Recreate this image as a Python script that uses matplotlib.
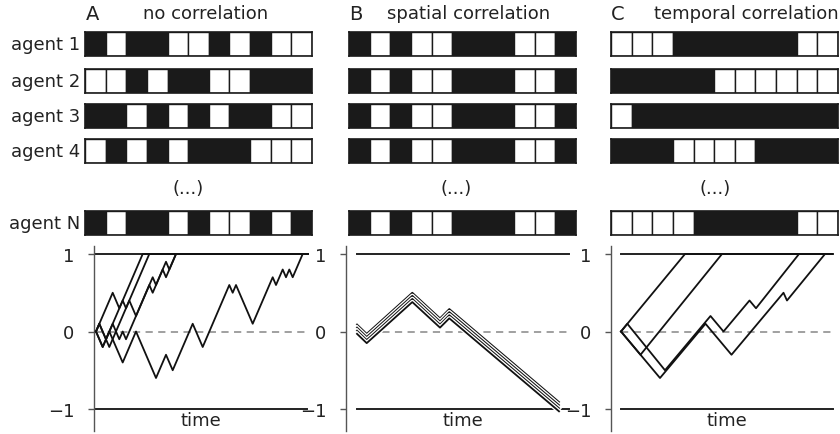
import numpy as np
import matplotlib
matplotlib.use("Agg")
import matplotlib.pyplot as plt
import matplotlib.patheffects as pe

# ---------------------------------------------------------------------------
# Data: agent sequences (1 = white cell, 0 = black cell)
# ---------------------------------------------------------------------------
agent_labels = ["agent 1", "agent 2", "agent 3", "agent 4", "agent N"]

seq_a = [
    [0, 1, 0, 0, 1, 1, 0, 1, 0, 1, 1],
    [1, 1, 0, 1, 0, 0, 1, 1, 0, 0, 0],
    [0, 0, 1, 0, 1, 0, 1, 0, 0, 1, 1],
    [1, 0, 1, 0, 1, 0, 0, 0, 1, 1, 1],
    [0, 1, 0, 0, 1, 0, 1, 1, 0, 1, 0],
]
seq_b = [[0, 1, 0, 1, 1, 0, 0, 0, 1, 1, 0]] * 5
seq_c = [
    [1, 1, 1, 0, 0, 0, 0, 0, 0, 1, 1],
    [0, 0, 0, 0, 0, 1, 1, 1, 1, 1, 1],
    [1, 0, 0, 0, 0, 0, 0, 0, 0, 0, 0],
    [0, 0, 0, 1, 1, 1, 1, 0, 0, 0, 0],
    [1, 1, 1, 1, 0, 0, 0, 0, 0, 1, 1],
]

panel_letters = ["A", "B", "C"]
panel_titles = ["no correlation", "spatial correlation", "temporal correlation"]

# ---------------------------------------------------------------------------
# Data: decision-variable trajectories (time, value)
# ---------------------------------------------------------------------------
traj_a = [
    ([0, 6.7, 13.3, 26.7, 40, 60, 70, 76.7, 96.7, 106.7, 133.3, 136.7, 140,
      156.7, 176.7, 180, 186.7, 190, 193.3, 196.7, 206.7, 212],
     [0, -0.2, 0, -0.4, 0, -0.6, -0.3, -0.5, 0.1, -0.2, 0.6, 0.5, 0.6,
      0.1, 0.7, 0.6, 0.8, 0.7, 0.8, 0.7, 1.0, 1.0]),
    ([0, 6.7, 46.7, 212], [0, -0.2, 1.0, 1.0]),
    ([0, 3.3, 13.3, 53.3, 212], [0, 0.1, -0.2, 1.0, 1.0]),
    ([0, 16.7, 23.3, 26.7, 30, 33.3, 40, 53.3, 56.7, 66.7, 70, 80, 212],
     [0, 0.5, 0.3, 0.4, 0.3, 0.4, 0.2, 0.6, 0.5, 0.8, 0.7, 1.0, 1.0]),
    ([0, 3.3, 10, 16.7, 23.3, 26.7, 30, 56.7, 60, 70, 73.3, 80, 212],
     [0, 0.1, -0.1, 0.1, -0.1, 0.0, -0.1, 0.7, 0.6, 0.9, 0.8, 1.0, 1.0]),
]
traj_b_time = [0, 9.7, 55.3, 83, 92.3, 202]
traj_b_value = [0.09, -0.03, 0.50, 0.17, 0.29, -0.91]
traj_b_offsets = [0.0, -0.04, -0.08, -0.12]
traj_c = [
    ([0, 64, 211], [0, 1.0, 1.0]),
    ([0, 19.5, 101, 211], [0, -0.3, 1.0, 1.0]),
    ([0, 39, 84.5, 110.5, 162.5, 166, 204, 211],
     [0, -0.6, 0.1, -0.3, 0.5, 0.4, 1.0, 1.0]),
    ([0, 6.3, 44, 89.5, 102.5, 128.5, 135, 178, 211],
     [0, 0.1, -0.5, 0.2, 0.0, 0.4, 0.3, 1.0, 1.0]),
]

# ---------------------------------------------------------------------------
# Figure
# ---------------------------------------------------------------------------
W, H = 840, 435
fig = plt.figure(figsize=(8.4, 4.35), dpi=100)
plt.rcParams["font.family"] = ["DejaVu Sans"]

FS = 13
TXT = "#222222"
bar_left = [85, 349, 611]
bar_width = 227
row_top = [33, 70, 105, 140, 212]
row_h = 24


def px_axes(x0, y0, w, h):
    """Axes from pixel box (top-left origin)."""
    return fig.add_axes([x0 / W, 1 - (y0 + h) / H, w / W, h / H])


dots_x = [188, 456, 715]
for p in range(3):
    seqs = [seq_a, seq_b, seq_c][p]
    for r, seq in enumerate(seqs):
        ax = px_axes(bar_left[p], row_top[r], bar_width, row_h)
        n = len(seq)
        for i, v in enumerate(seq):
            ax.add_patch(plt.Rectangle((i, 0), 1, 1,
                                       facecolor="white" if v else "#1a1a1a",
                                       edgecolor="#1a1a1a", lw=1.0))
        ax.set_xlim(0, n)
        ax.set_ylim(0, 1)
        for s in ax.spines.values():
            s.set_color("#1a1a1a")
            s.set_linewidth(1.2)
        ax.set_xticks([])
        ax.set_yticks([])
    fig.text(dots_x[p] / W, 1 - 189 / H, "(...)",
             ha="center", va="center", fontsize=FS, color=TXT)

for r, lab in enumerate(agent_labels):
    fig.text(80 / W, 1 - (row_top[r] + row_h / 2) / H, lab,
             ha="right", va="center", fontsize=FS, color=TXT)

letter_x = [86, 349, 611]
title_x = [206, 469, 746]
for p in range(3):
    fig.text(letter_x[p] / W, 1 - 14 / H, panel_letters[p], ha="left",
             va="center", fontsize=FS + 1, color=TXT)
    fig.text(title_x[p] / W, 1 - 14 / H, panel_titles[p], ha="center",
             va="center", fontsize=FS, color=TXT)

# bottom axes
spine_x = [94, 346, 611]
line_x0 = [95, 357, 621]
span = 212
y_top_px, y_bot_px = 247, 432
unit = 77.5  # px per unit value


def make_traj_axes(p):
    x0 = spine_x[p]
    ax = px_axes(x0, y_top_px, line_x0[p] - x0 + span + 2, y_bot_px - y_top_px)
    off = line_x0[p] - x0
    ax.set_xlim(-off, span + 2)
    top_val = 1 + (255 - y_top_px) / unit
    bot_val = -1 - (y_bot_px - 410) / unit
    ax.set_ylim(bot_val, top_val)
    for s in ["top", "right", "bottom"]:
        ax.spines[s].set_visible(False)
    ax.spines["left"].set_color("#555555")
    ax.spines["left"].set_linewidth(1.0)
    ax.set_xticks([])
    ax.set_yticks([-1, 0, 1])
    ax.set_yticklabels(["\u22121", "0", "1"], fontsize=FS, color=TXT)
    ax.tick_params(axis="y", length=4, width=1.0, color="#555555", pad=10)
    ax.plot([0, span], [1, 1], color="#222222", lw=1.4, zorder=2)
    ax.plot([0, span], [-1, -1], color="#222222", lw=1.4, zorder=2)
    ax.plot([0, span], [0, 0], color="#999999", lw=1.3, ls=(0, (4, 3)), zorder=1)
    ax.text(span / 2, -1.14, "time", ha="center", va="center",
            fontsize=FS, color=TXT)
    return ax


ax = make_traj_axes(0)
for t, v in traj_a:
    ax.plot(np.array(t) + 1, v, color="#111111", lw=1.3, zorder=3)

ax = make_traj_axes(1)
for off in traj_b_offsets:
    ax.plot(traj_b_time, np.array(traj_b_value) + off, color="#111111",
            lw=1.3, zorder=3,
            path_effects=[pe.Stroke(linewidth=3.2, foreground="white"), pe.Normal()])

ax = make_traj_axes(2)
for t, v in traj_c:
    ax.plot(t, v, color="#111111", lw=1.3, zorder=3)

fig.savefig("out.png", dpi=100)
